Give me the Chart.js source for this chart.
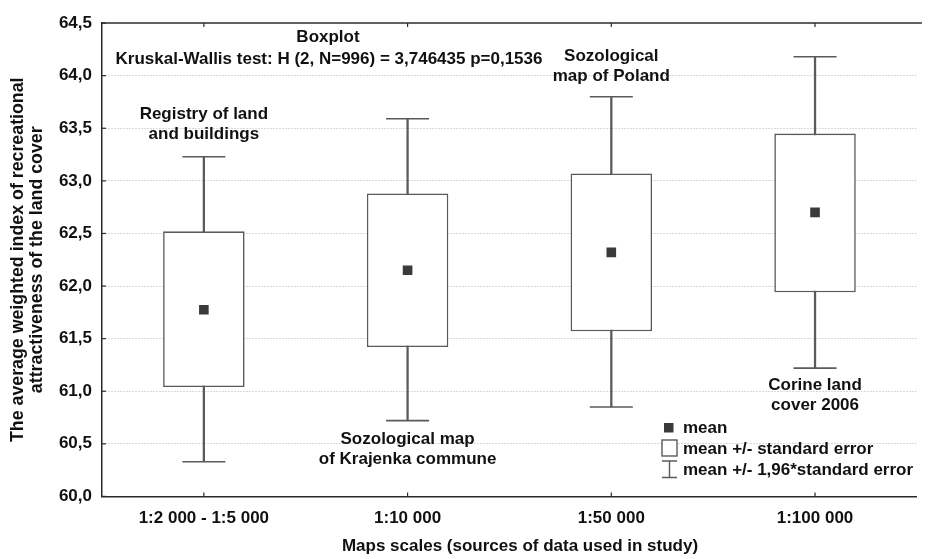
<!DOCTYPE html>
<html>
<head>
<meta charset="utf-8">
<script src="https://cdn.jsdelivr.net/npm/chart.js@4.4.1/dist/chart.umd.min.js"></script>
<style>
  html, body { margin: 0; padding: 0; background: #fff; overflow: hidden; }
  #wrap { width: 940px; height: 559px; }
</style>
</head>
<body>
<div id="wrap"><canvas id="chart" width="940" height="559"></canvas></div>
<script>
// data
const categories = ['1:2 000 - 1:5 000', '1:10 000', '1:50 000', '1:100 000'];
const means = [61.775, 62.15, 62.32, 62.70];
const boxLow = [61.04, 61.42, 61.57, 61.94];
const boxHigh = [62.52, 62.88, 63.07, 63.45];
const whiskerLow = [60.33, 60.72, 60.85, 61.22];
const whiskerHigh = [63.23, 63.59, 63.80, 64.18];
const yTicks = [60.0, 60.5, 61.0, 61.5, 62.0, 62.5, 63.0, 63.5, 64.0, 64.5];

const FONT = "'Liberation Sans', Arial, sans-serif";
const lineCol = '#5a5a5a';
const axisCol = '#2b2b2b';

// labels written over the categories (y = pixel row of the first line)
const notes = [
    { cat: 0, lines: ['Registry of land', 'and buildings'], y: 114 },
    { cat: 1, lines: ['Sozological map', 'of Krajenka commune'], y: 439 },
    { cat: 2, lines: ['Sozological', 'map of Poland'], y: 56 },
    { cat: 3, lines: ['Corine land', 'cover 2006'], y: 385 }
];

const decor = {
    id: 'decor',
    beforeDatasetsDraw(chart) {
        const { ctx, chartArea: a, scales } = chart;
        ctx.save();
        ctx.strokeStyle = axisCol;
        ctx.lineWidth = 1.5;
        // top frame
        ctx.beginPath();
        ctx.moveTo(a.left, a.top);
        ctx.lineTo(a.right + 5, a.top);
        ctx.stroke();
        // inward ticks
        ctx.lineWidth = 1.2;
        categories.forEach((c, i) => {
            const x = scales.x.getPixelForValue(i);
            ctx.beginPath();
            ctx.moveTo(x, a.bottom); ctx.lineTo(x, a.bottom - 4);
            ctx.moveTo(x, a.top); ctx.lineTo(x, a.top + 4);
            ctx.stroke();
        });
        yTicks.forEach(v => {
            const y = scales.y.getPixelForValue(v);
            ctx.beginPath();
            ctx.moveTo(a.left, y); ctx.lineTo(a.left + 4, y);
            ctx.stroke();
        });
        ctx.restore();
    },
    afterDraw(chart) {
        const { ctx, chartArea: a, scales } = chart;
        ctx.save();
        ctx.fillStyle = '#111';
        ctx.font = 'bold 17px ' + FONT;
        ctx.textBaseline = 'middle';
        ctx.textAlign = 'center';
        // titles
        ctx.fillText('Boxplot', 328, 37);
        ctx.fillText('Kruskal-Wallis test: H (2, N=996) = 3,746435 p=0,1536', 329, 59);
        notes.forEach(n => {
            const x = scales.x.getPixelForValue(n.cat);
            n.lines.forEach((t, k) => ctx.fillText(t, x, n.y + k * 20.5));
        });
        // x axis title
        ctx.fillText('Maps scales (sources of data used in study)', 520, 546);
        // y axis title
        ctx.font = 'bold 17.8px ' + FONT;
        const yc = (a.top + a.bottom) / 2;
        ctx.save();
        ctx.translate(18, yc);
        ctx.rotate(-Math.PI / 2);
        ctx.fillText('The average weighted index of recreational', 0, 0);
        ctx.restore();
        ctx.save();
        ctx.translate(37, yc);
        ctx.rotate(-Math.PI / 2);
        ctx.fillText('attractiveness of the land cover', 0, 0);
        ctx.restore();

        // legend
        ctx.font = 'bold 17px ' + FONT;
        ctx.textAlign = 'left';
        ctx.fillStyle = '#3a3a3a';
        ctx.fillRect(664, 423, 9.5, 9.5);
        ctx.strokeStyle = lineCol;
        ctx.lineWidth = 1.4;
        ctx.fillStyle = '#fff';
        ctx.fillRect(662, 440, 15, 16);
        ctx.strokeRect(662, 440, 15, 16);
        ctx.beginPath();
        ctx.moveTo(662, 461); ctx.lineTo(677, 461);
        ctx.moveTo(669.5, 461); ctx.lineTo(669.5, 477.5);
        ctx.moveTo(662, 477.5); ctx.lineTo(677, 477.5);
        ctx.stroke();
        ctx.fillStyle = '#111';
        ctx.fillText('mean', 683, 428);
        ctx.fillText('mean +/- standard error', 683, 449);
        ctx.fillText('mean +/- 1,96*standard error', 683, 470);
        ctx.restore();
    }
};

new Chart(document.getElementById('chart'), {
    data: {
        labels: categories,
        datasets: [
            {
                type: 'line',
                data: means,
                showLine: false,
                pointStyle: 'rect',
                pointRadius: 6.8,
                pointBackgroundColor: '#3a3a3a',
                pointBorderWidth: 0,
                order: 0
            },
            {
                type: 'bar',
                data: categories.map((_, i) => [boxLow[i], boxHigh[i]]),
                backgroundColor: '#fff',
                borderColor: lineCol,
                borderWidth: 1.6,
                borderSkipped: false,
                grouped: false,
                barPercentage: 0.4,
                categoryPercentage: 1.0,
                order: 1
            },
            {
                type: 'bar',
                data: categories.map((_, i) => [whiskerLow[i], whiskerHigh[i]]),
                backgroundColor: lineCol,
                borderWidth: 0,
                grouped: false,
                barThickness: 1.6,
                order: 2
            },
            {
                type: 'line',
                data: whiskerLow,
                showLine: false,
                pointStyle: 'line',
                pointRadius: 21.5,
                pointBorderColor: lineCol,
                pointBorderWidth: 1.6,
                order: 3
            },
            {
                type: 'line',
                data: whiskerHigh,
                showLine: false,
                pointStyle: 'line',
                pointRadius: 21.5,
                pointBorderColor: lineCol,
                pointBorderWidth: 1.6,
                order: 3
            }
        ]
    },
    options: {
        responsive: false,
        animation: false,
        events: [],
        layout: { padding: { top: 17, right: 2, left: 0, bottom: 0 } },
        plugins: {
            legend: { display: false },
            tooltip: { enabled: false }
        },
        scales: {
            x: {
                type: 'category',
                offset: true,
                grid: { display: false, drawTicks: false },
                border: { display: true, color: axisCol, width: 1.5 },
                ticks: {
                    color: '#111',
                    font: { family: FONT, size: 17, weight: 'bold' },
                    padding: 12,
                    maxRotation: 0,
                    autoSkip: false
                },
                afterFit(scale) { scale.height = 62.6; }
            },
            y: {
                min: 60,
                max: 64.5,
                afterBuildTicks(scale) { scale.ticks = yTicks.map(v => ({ value: v })); },
                grid: {
                    color: (c) => (c.tick && (c.tick.value === 60 || c.tick.value === 64.5)) ? 'rgba(0,0,0,0)' : '#b4b4b4',
                    lineWidth: 1,
                    drawTicks: false
                },
                border: { display: true, color: axisCol, width: 1.5, dash: [1, 2] },
                ticks: {
                    color: '#111',
                    font: { family: FONT, size: 17, weight: 'bold' },
                    padding: 10,
                    callback: (v) => Number(v).toFixed(1).replace('.', ',')
                },
                afterFit(scale) { scale.width = 102; }
            }
        }
    },
    plugins: [decor]
});
</script>
</body>
</html>
